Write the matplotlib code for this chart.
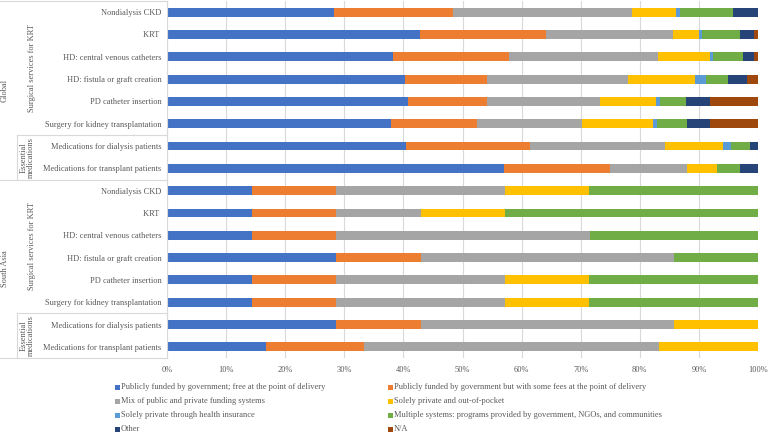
import matplotlib
matplotlib.use("Agg")
import matplotlib.pyplot as plt
import matplotlib.transforms as mtransforms
from matplotlib.patches import Rectangle
from matplotlib.lines import Line2D
import numpy as np

plt.rcParams['font.family'] = ['Liberation Serif', 'DejaVu Serif']

row_labels = [
    "Nondialysis CKD", "KRT ", "HD: central venous catheters", "HD: fistula or graft creation",
    "PD catheter insertion", "Surgery for kidney transplantation",
    "Medications for dialysis patients", "Medications for transplant patients",
] * 2

series_names = [
    "Publicly funded by government; free at the point of delivery",
    "Publicly funded by government but with some fees at the point of delivery",
    "Mix of public and private funding systems",
    "Solely private and out-of-pocket",
    "Solely private through health insurance",
    "Multiple systems: programs provided by government, NGOs, and communities",
    "Other",
    "N/A",
]
colors = ["#4472C4", "#ED7D31", "#A5A5A5", "#FFC000", "#5B9BD5", "#70AD47", "#264478", "#9E480E"]

# rows: Global (8) then South Asia (8)
publicly_free = [28.3, 42.8, 38.3, 40.3, 40.7, 37.9, 40.5, 57.0,
                 14.3, 14.3, 14.3, 28.6, 14.3, 14.3, 28.6, 16.7]
publicly_fees = [20.1, 21.3, 19.6, 13.8, 13.4, 14.6, 20.9, 18.0,
                 14.3, 14.3, 14.3, 14.3, 14.3, 14.3, 14.3, 16.6]
mix = [30.2, 21.5, 25.2, 23.9, 19.2, 17.7, 22.9, 13.0,
       28.6, 14.3, 42.9, 42.9, 28.6, 28.6, 42.9, 50.0]
private_oop = [7.5, 4.4, 8.8, 11.3, 9.5, 12.1, 9.8, 5.1,
               14.2, 14.3, 0.0, 0.0, 14.2, 14.2, 14.2, 16.7]
private_insurance = [0.7, 0.6, 0.5, 1.9, 0.6, 0.6, 1.3, 0.0,
                     0, 0, 0, 0, 0, 0, 0, 0]
multiple = [8.9, 6.3, 5.1, 3.8, 4.5, 5.1, 3.3, 3.9,
            28.6, 42.8, 28.5, 14.2, 28.6, 28.6, 0.0, 0.0]
other = [4.3, 2.5, 1.9, 3.2, 3.9, 3.8, 1.3, 3.0,
         0, 0, 0, 0, 0, 0, 0, 0]
na = [0.0, 0.6, 0.6, 1.8, 8.2, 8.2, 0.0, 0.0,
      0, 0, 0, 0, 0, 0, 0, 0]

series = [publicly_free, publicly_fees, mix, private_oop, private_insurance, multiple, other, na]

W, H = 768, 434
fig = plt.figure(figsize=(W / 100, H / 100), dpi=100)
ax = fig.add_axes([167 / W, 1 - 358 / H, (758 - 167) / W, 357 / H])

txt_color = "#595959"
grid_color = "#D9D9D9"
fs = 6.0

y = np.arange(len(row_labels))
left = np.zeros(len(row_labels))
for vals, c, name in zip(series, colors, series_names):
    vals = np.array(vals, dtype=float)
    ax.barh(y, vals, left=left, height=0.4, color=c, label=name, linewidth=0)
    left += vals

ax.set_xlim(0, 100)
ax.set_ylim(15.5, -0.5)
ax.set_xticks(np.arange(0, 101, 10))
ax.set_xticklabels([f"{v}%" for v in range(0, 101, 10)])
ax.set_yticks(y)
ax.set_yticklabels(row_labels)
ax.tick_params(axis='both', length=0, labelsize=fs, colors=txt_color)
ax.tick_params(axis='x', pad=6)
ax.tick_params(axis='y', pad=4)
ax.grid(axis='x', color=grid_color, linewidth=0.8)
ax.set_axisbelow(True)
for s in ['top', 'right', 'bottom']:
    ax.spines[s].set_visible(False)
ax.spines['left'].set_color(grid_color)
ax.spines['left'].set_linewidth(0.8)

# multi-level category axis
tr = mtransforms.blended_transform_factory(fig.transFigure, ax.transData)
x0, x1, xm = 0 / W, 167 / W, 17 / W
for yy, xs in [(-0.5, x0), (5.5, xm), (7.5, x0), (13.5, xm), (15.5, x0)]:
    fig.add_artist(Line2D([xs, x1], [yy, yy], transform=tr, color=grid_color, linewidth=0.8))
for ya, yb in [(5.5, 7.5), (13.5, 15.5)]:
    fig.add_artist(Line2D([xm, xm], [ya, yb], transform=tr, color=grid_color, linewidth=0.8))

fig.text(5 / W, 3.5, "Global", transform=tr, rotation=90, ha='center', va='center', fontsize=fs, color=txt_color)
fig.text(5 / W, 11.5, "South Asia", transform=tr, rotation=90, ha='center', va='center', fontsize=fs, color=txt_color)
for yc in [2.5, 10.5]:
    fig.text(32 / W, yc, "Surgical services for KRT", transform=tr, rotation=90, ha='center', va='center', fontsize=fs, color=txt_color)
for yc in [6.5, 14.5]:
    fig.text(27 / W, yc, "Essential\nmedications", transform=tr, rotation=90, ha='center', va='center', fontsize=fs, color=txt_color, linespacing=0.9)

# legend (two columns, row-wise order)
for i, (c, name) in enumerate(zip(colors, series_names)):
    col, row = i % 2, i // 2
    xp = [117, 390][col]
    yp = [387, 401, 415, 429][row]
    sz = 5
    fig.add_artist(Rectangle(((xp - sz / 2) / W, 1 - (yp + sz / 2) / H), sz / W, sz / H,
                             transform=fig.transFigure, color=c, linewidth=0))
    fig.text((xp + 4) / W, 1 - yp / H, name, ha='left', va='center', fontsize=fs, color=txt_color)

fig.savefig("out.png", dpi=100)
